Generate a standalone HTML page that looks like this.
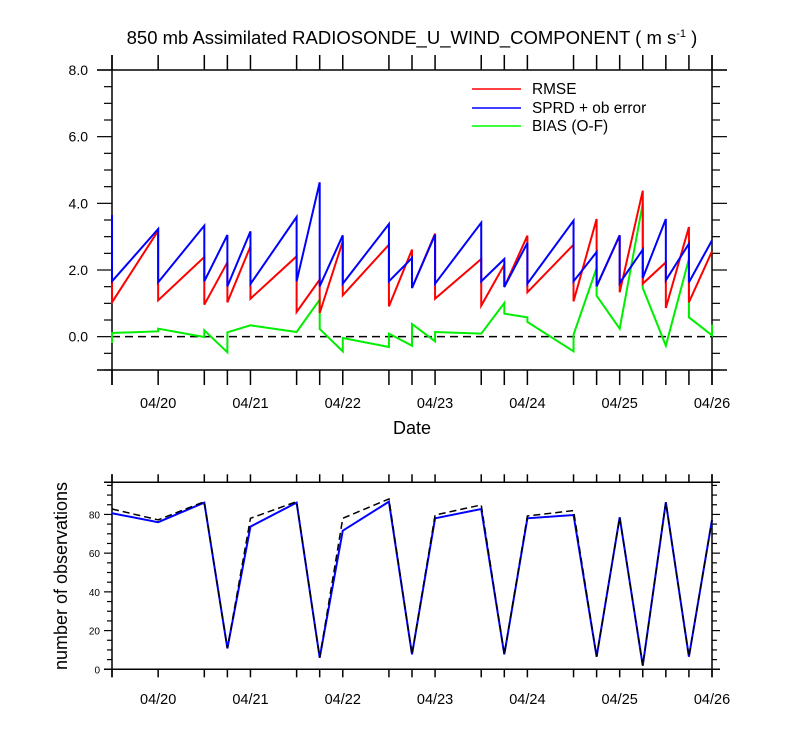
<!DOCTYPE html>
<html><head><meta charset="utf-8"><style>
html,body{margin:0;padding:0;background:#fff;}
svg{display:block;font-family:"Liberation Sans",Arial,sans-serif;}
</style></head><body>
<svg id="chart" width="800" height="750" viewBox="0 0 800 750" xmlns="http://www.w3.org/2000/svg">
<text x="412" y="44" text-anchor="middle" font-size="18.5">850 mb Assimilated RADIOSONDE_U_WIND_COMPONENT ( m s<tspan dy="-7" font-size="11">-1</tspan><tspan dy="7"> )</tspan></text>
<g id="topPanel"></g>
<g id="botPanel"></g>
<g>
<line x1="472" y1="89" x2="521" y2="89" stroke="#f00" stroke-width="1.5"/>
<text x="532" y="94" font-size="15.4">RMSE</text>
<line x1="472" y1="108" x2="521" y2="108" stroke="#00f" stroke-width="1.5"/>
<text x="532" y="113" font-size="15.4">SPRD + ob error</text>
<line x1="472" y1="126" x2="521" y2="126" stroke="#0f0" stroke-width="1.5"/>
<text x="532" y="131" font-size="15.4">BIAS (O-F)</text>
</g>
<text x="412" y="434" text-anchor="middle" font-size="18">Date</text>
<text transform="translate(67,576) rotate(-90)" text-anchor="middle" font-size="18">number of observations</text>
</svg>
<script>
const times = [-0.5,0,0.5,0.75,1,1.5,1.75,2,2.5,2.75,3,3.5,3.75,4,4.5,4.75,5,5.25,5.5,5.75,6];
const dayLabels = ["04/20","04/21","04/22","04/23","04/24","04/25","04/26"];
const dayTicks = [0,1,2,3,4,5,6];
const topYTicks = [0,2,4,6,8];
const topYLabels = ["0.0","2.0","4.0","6.0","8.0"];
const sprdFcst = [3.65,3.23,3.33,3.05,3.16,3.59,4.63,3.04,3.38,2.36,3.06,3.42,2.33,2.81,3.48,2.54,3.04,2.61,3.53,2.79,2.89];
const sprdAnl  = [1.66,1.63,1.66,1.51,1.58,1.66,1.51,1.59,1.66,1.46,1.59,1.66,1.49,1.59,1.66,1.51,1.61,1.76,1.69,1.63,2.89];
const rmseFcst = [2.66,3.18,2.39,2.23,2.71,2.41,1.71,2.86,2.76,2.61,3.09,2.33,2.16,3.03,2.76,3.53,3.04,4.38,2.23,3.29,2.56];
const rmseAnl  = [1.03,1.09,0.96,1.03,1.14,0.74,0.71,1.24,0.91,1.46,1.14,0.93,1.49,1.33,1.06,1.51,1.33,1.59,0.86,1.03,2.56];
const biasFcst = [-0.19,0.16,-0.01,-0.47,0.34,0.14,1.11,-0.44,-0.31,-0.27,-0.14,0.09,1.01,0.58,-0.44,2.06,0.24,4.0,-0.27,2.33,0.04];
const biasAnl  = [0.11,0.24,0.19,0.13,0.34,0.14,0.23,-0.04,0.09,0.38,0.14,0.09,0.69,0.44,0.06,1.23,0.24,1.46,-0.27,0.58,0.36];
const obsUsed  = [80.6,76,86.1,10.8,73.7,86.1,6,71.6,86.6,7.7,78,82.8,7.7,78,79.7,6.5,78.5,1.9,86.3,6.5,77.2];
const obsTotal = [82.8,77.2,86.6,10.8,78,86.6,6,78,88,7.7,79.7,84.9,7.7,79.2,82,6.5,78.5,1.9,86.3,6.5,77.2];
const botYTicks = [0,20,40,60,80];
const botYLabels = ["0","20","40","60","80"];

const NS="http://www.w3.org/2000/svg";
const X0=112, X1=712;
const xs = t => X0 + (t+0.5)/6.5*(X1-X0);
const T_TOP=70, T_BOT=370, TYMIN=-1, TYMAX=8;
const ty = v => T_BOT - (v-TYMIN)/(TYMAX-TYMIN)*(T_BOT-T_TOP);
const B_TOP=482.3, B_BOT=669.3, BYMAX=96.6;
const by = v => B_BOT - v/BYMAX*(B_BOT-B_TOP);

function mk(parent, tag, attrs){
  const e=document.createElementNS(NS,tag);
  for(const k in attrs) e.setAttribute(k,attrs[k]);
  parent.appendChild(e); return e;
}
function frame(g, yTop, yBot, tl, prefix){
  const A={stroke:"#000","stroke-width":1.5,fill:"none"};
  let e;
  e=mk(g,"line",Object.assign({x1:X0-tl,y1:yTop,x2:X1+tl,y2:yTop},A));
  
  
  e=mk(g,"line",Object.assign({x1:X0-tl,y1:yBot,x2:X1+tl,y2:yBot},A));
  
  
  e=mk(g,"line",Object.assign({x1:X0,y1:yTop-tl,x2:X0,y2:yBot+tl},A));
  
  
  e=mk(g,"line",Object.assign({x1:X1,y1:yTop-tl,x2:X1,y2:yBot+tl},A));
  
  
  times.forEach(t=>{
    const x=xs(t);
    mk(g,"line",{x1:x,y1:yTop,x2:x,y2:yTop-tl,stroke:"#000","stroke-width":1.5});
    mk(g,"line",{x1:x,y1:yBot,x2:x,y2:yBot+tl,stroke:"#000","stroke-width":1.5});
  });
}
function sawPath(fc, an, yf){
  let d="";
  for(let i=0;i<times.length;i++){
    const x=xs(times[i]);
    d += (i===0?"M":"L")+x+","+yf(fc[i])+" L"+x+","+yf(an[i])+" ";
  }
  return d;
}
function polyPath(v, yf){
  return v.map((val,i)=>(i?"L":"M")+xs(times[i])+","+yf(val)).join(" ");
}

const topG=document.getElementById("topPanel");
frame(topG,T_TOP,T_BOT,15,"top");
for(let v=TYMIN; v<=TYMAX+1e-9; v+=0.5){
  const y=ty(v), major=Math.abs(v/2-Math.round(v/2))<1e-9;
  const L=major?15:8;
  mk(topG,"line",{x1:X0,y1:y,x2:X0-L,y2:y,stroke:"#000","stroke-width":1.2});
  mk(topG,"line",{x1:X1,y1:y,x2:X1+L,y2:y,stroke:"#000","stroke-width":1.2});
}
topYTicks.forEach((v,i)=>{
  const t=mk(topG,"text",{x:88,y:ty(v)+5,"text-anchor":"end","font-size":14});
  
  
  t.textContent=topYLabels[i];
});
dayTicks.forEach((d,i)=>{
  const t=mk(topG,"text",{x:xs(d),y:408,"text-anchor":"middle","font-size":14.5});
  
  
  t.textContent=dayLabels[i];
});
let z=mk(topG,"line",{x1:X0,y1:ty(0),x2:X1,y2:ty(0),stroke:"#000","stroke-width":1.5,"stroke-dasharray":"8,5"});


let p;
p=mk(topG,"path",{d:sawPath(biasFcst,biasAnl,ty),stroke:"#00ee00","stroke-width":2,fill:"none"});


p=mk(topG,"path",{d:sawPath(rmseFcst,rmseAnl,ty),stroke:"#f00","stroke-width":2,fill:"none"});


p=mk(topG,"path",{d:sawPath(sprdFcst,sprdAnl,ty),stroke:"#00f","stroke-width":2,fill:"none"});



const botG=document.getElementById("botPanel");
frame(botG,B_TOP,B_BOT,8,"bottom");
for(let v=0; v<=BYMAX; v+=5){
  const y=by(v), major=v%20===0;
  const L=major?8:5;
  mk(botG,"line",{x1:X0,y1:y,x2:X0-L,y2:y,stroke:"#000","stroke-width":1.2});
  mk(botG,"line",{x1:X1,y1:y,x2:X1+L,y2:y,stroke:"#000","stroke-width":1.2});
}
botYTicks.forEach((v,i)=>{
  const t=mk(botG,"text",{x:100,y:by(v)+4,"text-anchor":"end","font-size":10});
  
  
  t.textContent=botYLabels[i];
});
dayTicks.forEach((d,i)=>{
  const t=mk(botG,"text",{x:xs(d),y:704,"text-anchor":"middle","font-size":14.5});
  
  
  t.textContent=dayLabels[i];
});
p=mk(botG,"path",{d:polyPath(obsUsed,by),stroke:"#00f","stroke-width":2,fill:"none"});


p=mk(botG,"path",{d:polyPath(obsTotal,by),stroke:"#000","stroke-width":1.5,fill:"none","stroke-dasharray":"7,4"});


</script>
</body></html>
